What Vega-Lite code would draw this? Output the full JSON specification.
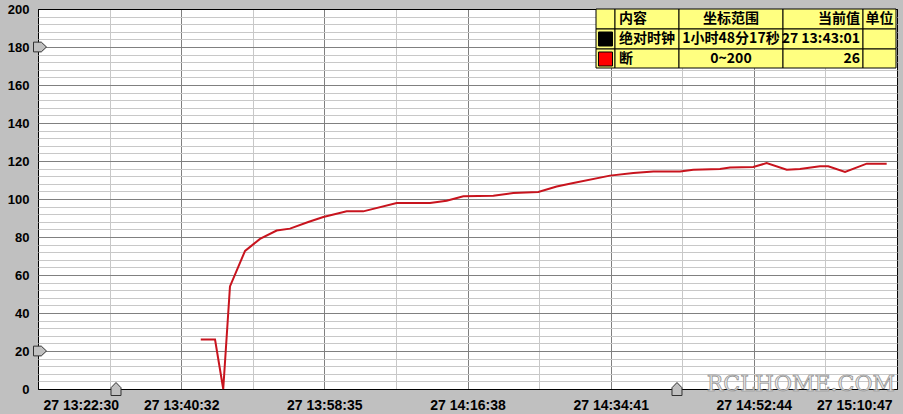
{
  "$schema": "https://vega.github.io/schema/vega-lite/v6.json",
  "width": 859,
  "height": 380,
  "autosize": "none",
  "padding": {"left": 38, "top": 9, "right": 6, "bottom": 25},
  "background": "#c0c0c0",
  "config": {
    "view": {"fill": "white", "stroke": "black", "strokeWidth": 1},
    "font": "Liberation Sans"
  },
  "datasets": {
    "series": [
      {"t": "2020-01-27T13:43:01", "v": 26},
      {"t": "2020-01-27T13:44:49", "v": 26},
      {"t": "2020-01-27T13:45:51", "v": 0},
      {"t": "2020-01-27T13:46:42", "v": 54},
      {"t": "2020-01-27T13:48:36", "v": 72.7},
      {"t": "2020-01-27T13:50:29", "v": 79},
      {"t": "2020-01-27T13:52:35", "v": 83.4},
      {"t": "2020-01-27T13:54:16", "v": 84.4},
      {"t": "2020-01-27T13:56:34", "v": 87.9},
      {"t": "2020-01-27T13:58:28", "v": 90.5},
      {"t": "2020-01-27T14:01:25", "v": 93.5},
      {"t": "2020-01-27T14:03:30", "v": 93.5},
      {"t": "2020-01-27T14:07:43", "v": 97.9},
      {"t": "2020-01-27T14:11:55", "v": 97.9},
      {"t": "2020-01-27T14:14:01", "v": 99.1},
      {"t": "2020-01-27T14:16:07", "v": 101.4},
      {"t": "2020-01-27T14:19:54", "v": 101.7},
      {"t": "2020-01-27T14:22:25", "v": 103.2},
      {"t": "2020-01-27T14:25:34", "v": 103.7},
      {"t": "2020-01-27T14:27:53", "v": 106.6},
      {"t": "2020-01-27T14:29:59", "v": 108.4},
      {"t": "2020-01-27T14:34:36", "v": 112.3},
      {"t": "2020-01-27T14:37:33", "v": 113.7},
      {"t": "2020-01-27T14:40:04", "v": 114.5},
      {"t": "2020-01-27T14:43:26", "v": 114.5},
      {"t": "2020-01-27T14:45:06", "v": 115.4},
      {"t": "2020-01-27T14:48:28", "v": 115.8},
      {"t": "2020-01-27T14:49:44", "v": 116.6},
      {"t": "2020-01-27T14:52:40", "v": 116.8},
      {"t": "2020-01-27T14:54:21", "v": 118.9},
      {"t": "2020-01-27T14:56:53", "v": 115.4},
      {"t": "2020-01-27T14:58:33", "v": 115.8},
      {"t": "2020-01-27T15:01:04", "v": 117.2},
      {"t": "2020-01-27T15:02:07", "v": 117.2},
      {"t": "2020-01-27T15:04:14", "v": 114.2},
      {"t": "2020-01-27T15:06:58", "v": 118.6},
      {"t": "2020-01-27T15:09:29", "v": 118.6}
    ],
    "ymarks": [{"v": 180}, {"v": 20}],
    "xmarks": [{"t": "2020-01-27T13:32:20", "v": 0}, {"t": "2020-01-27T14:43:03", "v": 0}],
    "cells": [
      {"r0": 0, "r1": 1, "c0": 0, "c1": 1, "text": ""},
      {"r0": 0, "r1": 1, "c0": 1, "c1": 2, "text": "内容"},
      {"r0": 0, "r1": 1, "c0": 2, "c1": 3, "text": "坐标范围"},
      {"r0": 0, "r1": 1, "c0": 3, "c1": 4, "text": "当前值"},
      {"r0": 0, "r1": 1, "c0": 4, "c1": 5, "text": "单位"},
      {"r0": 1, "r1": 2, "c0": 0, "c1": 1, "text": ""},
      {"r0": 1, "r1": 2, "c0": 1, "c1": 2, "text": "绝对时钟"},
      {"r0": 1, "r1": 2, "c0": 2, "c1": 3, "text": "1小时48分17秒"},
      {"r0": 1, "r1": 2, "c0": 3, "c1": 4, "text": "27 13:43:01"},
      {"r0": 1, "r1": 2, "c0": 4, "c1": 5, "text": ""},
      {"r0": 2, "r1": 3, "c0": 0, "c1": 1, "text": ""},
      {"r0": 2, "r1": 3, "c0": 1, "c1": 2, "text": "断"},
      {"r0": 2, "r1": 3, "c0": 2, "c1": 3, "text": "0~200"},
      {"r0": 2, "r1": 3, "c0": 3, "c1": 4, "text": "26"},
      {"r0": 2, "r1": 3, "c0": 4, "c1": 5, "text": ""}
    ],
    "swatches": [
      {"series": "绝对时钟", "r0": 1},
      {"series": "断", "r0": 2}
    ]
  },
  "layer": [
    {
      "layer": [
        {
          "data": {"name": "series"},
          "mark": {"type": "line", "color": "#c8141e", "strokeWidth": 2},
          "encoding": {
            "x": {
              "field": "t",
              "type": "temporal",
              "scale": {
                "domain": [
                  {"year": 2020, "month": 1, "date": 27, "hours": 13, "minutes": 22, "seconds": 30},
                  {"year": 2020, "month": 1, "date": 27, "hours": 15, "minutes": 10, "seconds": 47}
                ],
                "nice": false
              },
              "axis": {
                "title": null,
                "tickCount": 100,
                "values": [
                  {"year": 2020, "month": 1, "date": 27, "hours": 13, "minutes": 22, "seconds": 30, "milliseconds": 0},
                  {"year": 2020, "month": 1, "date": 27, "hours": 13, "minutes": 31, "seconds": 31, "milliseconds": 417},
                  {"year": 2020, "month": 1, "date": 27, "hours": 13, "minutes": 40, "seconds": 32, "milliseconds": 833},
                  {"year": 2020, "month": 1, "date": 27, "hours": 13, "minutes": 49, "seconds": 34, "milliseconds": 250},
                  {"year": 2020, "month": 1, "date": 27, "hours": 13, "minutes": 58, "seconds": 35, "milliseconds": 667},
                  {"year": 2020, "month": 1, "date": 27, "hours": 14, "minutes": 7, "seconds": 37, "milliseconds": 83},
                  {"year": 2020, "month": 1, "date": 27, "hours": 14, "minutes": 16, "seconds": 38, "milliseconds": 500},
                  {"year": 2020, "month": 1, "date": 27, "hours": 14, "minutes": 25, "seconds": 39, "milliseconds": 917},
                  {"year": 2020, "month": 1, "date": 27, "hours": 14, "minutes": 34, "seconds": 41, "milliseconds": 333},
                  {"year": 2020, "month": 1, "date": 27, "hours": 14, "minutes": 43, "seconds": 42, "milliseconds": 750},
                  {"year": 2020, "month": 1, "date": 27, "hours": 14, "minutes": 52, "seconds": 44, "milliseconds": 167},
                  {"year": 2020, "month": 1, "date": 27, "hours": 15, "minutes": 1, "seconds": 45, "milliseconds": 583},
                  {"year": 2020, "month": 1, "date": 27, "hours": 15, "minutes": 10, "seconds": 47, "milliseconds": 0}
                ],
                "labelExpr": "round(datum.index * 12) % 2 === 0 ? timeFormat(datum.value, '%d %H:%M:%S') : ''",
                "grid": true,
                "gridColor": {
                  "condition": [
                    {"test": "datum.index === 0 || datum.index === 1", "value": "#000000"},
                    {"test": "round(datum.index * 12) % 2 === 0", "value": "#808080"}
                  ],
                  "value": "#c8c8c8"
                },
                "gridOpacity": 1,
                "gridWidth": 1,
                "ticks": false,
                "domain": false,
                "labelFlush": true,
                "labelFlushOffset": -5,
                "labelOverlap": false,
                "labelBound": false,
                "labelFontSize": 14,
                "labelFontWeight": "bold",
                "labelColor": "#000000",
                "labelPadding": 9
              }
            },
            "y": {
              "field": "v",
              "type": "quantitative",
              "scale": {"domain": [0, 200], "nice": false, "zero": true},
              "axis": {
                "title": null,
                "tickCount": 100,
                "values": [0, 4, 8, 12, 16, 20, 24, 28, 32, 36, 40, 44, 48, 52, 56, 60, 64, 68, 72, 76, 80, 84, 88, 92, 96, 100, 104, 108, 112, 116, 120, 124, 128, 132, 136, 140, 144, 148, 152, 156, 160, 164, 168, 172, 176, 180, 184, 188, 192, 196, 200],
                "labelExpr": "datum.value % 20 === 0 ? datum.label : ''",
                "grid": true,
                "gridColor": {
                  "condition": [
                    {"test": "datum.value === 0 || datum.value === 200", "value": "#000000"},
                    {"test": "datum.value % 20 === 0", "value": "#808080"}
                  ],
                  "value": "#c8c8c8"
                },
                "gridOpacity": 1,
                "gridWidth": 1,
                "ticks": false,
                "domain": false,
                "labelOverlap": false,
                "labelBound": false,
                "labelFontSize": 13,
                "labelFontWeight": "bold",
                "labelColor": "#000000",
                "labelPadding": 9
              }
            }
          }
        },
        {
          "data": {"name": "ymarks"},
          "mark": {"type": "point", "shape": "M-1,-0.75L0.2,-0.75L1,0L0.2,0.75L-1,0.75Z", "filled": true, "fill": "#c0c0c0", "stroke": "#303030", "strokeWidth": 1, "size": 169, "opacity": 1, "xOffset": 2},
          "encoding": {
            "x": {"datum": {"year": 2020, "month": 1, "date": 27, "hours": 13, "minutes": 22, "seconds": 30}, "type": "temporal"},
            "y": {"field": "v", "type": "quantitative"}
          }
        },
        {
          "data": {"name": "xmarks"},
          "mark": {"type": "point", "shape": "M-0.77,1L-0.77,-0.2L0,-1L0.77,-0.2L0.77,1Z", "filled": true, "fill": "#c0c0c0", "stroke": "#303030", "strokeWidth": 1, "size": 169, "opacity": 1},
          "encoding": {
            "x": {"field": "t", "type": "temporal"},
            "y": {"field": "v", "type": "quantitative"}
          }
        },
        {
          "data": {"values": [{"w": "RCLHOME.COM", "t": "2020-01-27T15:10:47", "v": 0}]},
          "mark": {"type": "text", "font": "DejaVu Serif", "fontSize": 22, "fill": "#e8e8e8", "stroke": "#8c8c8c", "strokeWidth": 0.7, "align": "right", "baseline": "alphabetic", "dx": -2, "dy": 1.5},
          "encoding": {
            "x": {"field": "t", "type": "temporal"},
            "y": {"field": "v", "type": "quantitative"},
            "text": {"field": "w"}
          }
        }
      ]
    },
    {
      "data": {"name": "cells"},
      "layer": [
        {
          "mark": {"type": "rect", "fill": "#ffff80", "stroke": "#000000", "strokeWidth": 1},
          "encoding": {
            "x": {"field": "c0", "type": "quantitative", "scale": {"domain": [0, 1, 2, 3, 4, 5], "range": [558, 577, 641, 745, 825, 858], "nice": false, "zero": false}, "axis": null},
            "x2": {"field": "c1"},
            "y": {"field": "r0", "type": "quantitative", "scale": {"domain": [0, 1, 2, 3], "range": [0, 20, 40, 59], "nice": false, "zero": false}, "axis": null},
            "y2": {"field": "r1"}
          }
        },
        {
          "data": {"name": "swatches"},
          "mark": {"type": "square", "size": 196, "filled": true, "stroke": "#000000", "strokeWidth": 1, "opacity": 1, "yOffset": 10},
          "encoding": {
            "x": {"datum": 0.5, "type": "quantitative"},
            "y": {"field": "r0", "type": "quantitative"},
            "color": {"field": "series", "type": "nominal", "scale": {"domain": ["绝对时钟", "断"], "range": ["#000000", "#ff0000"]}, "legend": null}
          }
        },
        {
          "transform": [{"filter": "datum.c0 === 1"}],
          "mark": {"type": "text", "align": "left", "baseline": "middle", "dx": 4, "dy": 10, "font": "Noto Sans CJK SC", "fontSize": 14, "fontWeight": "bold", "color": "#000000"},
          "encoding": {
            "x": {"field": "c0", "type": "quantitative"},
            "y": {"field": "r0", "type": "quantitative"},
            "text": {"field": "text"}
          }
        },
        {
          "transform": [{"filter": "datum.c0 === 2"}],
          "mark": {"type": "text", "align": "center", "baseline": "middle", "dy": 10, "font": "Noto Sans CJK SC", "fontSize": 14, "fontWeight": "bold", "color": "#000000"},
          "encoding": {
            "x": {"datum": 2.5, "type": "quantitative"},
            "y": {"field": "r0", "type": "quantitative"},
            "text": {"field": "text"}
          }
        },
        {
          "transform": [{"filter": "datum.c0 === 3"}],
          "mark": {"type": "text", "align": "right", "baseline": "middle", "dx": -3, "dy": 10, "font": "Noto Sans CJK SC", "fontSize": 14, "fontWeight": "bold", "color": "#000000"},
          "encoding": {
            "x": {"field": "c1", "type": "quantitative"},
            "y": {"field": "r0", "type": "quantitative"},
            "text": {"field": "text"}
          }
        },
        {
          "transform": [{"filter": "datum.c0 === 4"}],
          "mark": {"type": "text", "align": "center", "baseline": "middle", "dy": 10, "font": "Noto Sans CJK SC", "fontSize": 14, "fontWeight": "bold", "color": "#000000"},
          "encoding": {
            "x": {"datum": 4.5, "type": "quantitative"},
            "y": {"field": "r0", "type": "quantitative"},
            "text": {"field": "text"}
          }
        }
      ]
    }
  ],
  "resolve": {"scale": {"x": "independent", "y": "independent"}}
}
